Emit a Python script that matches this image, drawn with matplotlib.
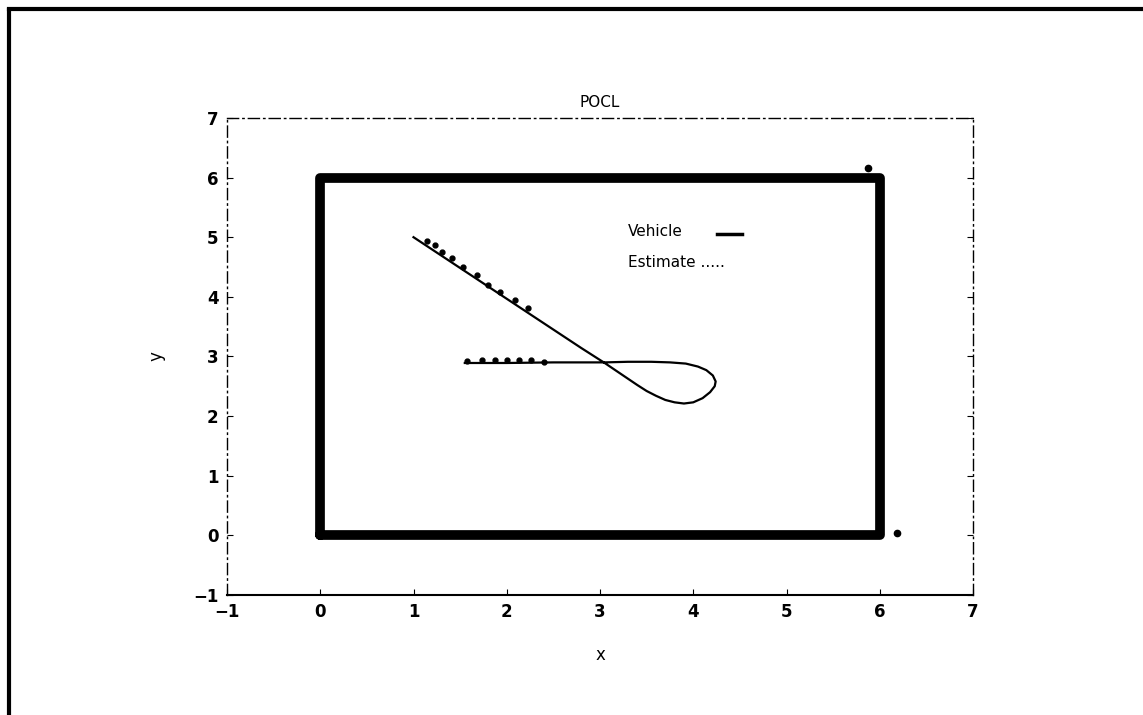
import numpy as np
import matplotlib.pyplot as plt
from matplotlib.lines import Line2D

# pool border
pool_x = [0, 6, 6, 0, 0]
pool_y = [0, 0, 6, 6, 0]

# vehicle path
veh_x = [1.00, 1.60, 2.20, 2.80, 3.05, 3.40, 3.50, 3.60, 3.70, 3.80, 3.90, 4.00,
         4.10, 4.18, 4.23, 4.24, 4.21, 4.14, 4.05, 3.92, 3.75, 3.55, 3.30, 3.05,
         2.50, 2.00, 1.55]
veh_y = [5.00, 4.38, 3.76, 3.14, 2.89, 2.52, 2.42, 2.34, 2.27, 2.23, 2.21, 2.23,
         2.30, 2.40, 2.50, 2.58, 2.68, 2.77, 2.83, 2.88, 2.90, 2.91, 2.91, 2.90,
         2.90, 2.89, 2.89]

# estimate points
est_x = [1.15, 1.23, 1.31, 1.41, 1.53, 1.68, 1.80, 1.93, 2.09, 2.23,
         1.57, 1.73, 1.87, 2.00, 2.13, 2.26, 2.40]
est_y = [4.94, 4.87, 4.75, 4.65, 4.50, 4.37, 4.20, 4.08, 3.95, 3.81,
         2.92, 2.94, 2.94, 2.94, 2.94, 2.94, 2.91]

# stray marks in the corners
mark_x = [5.87, 6.18]
mark_y = [6.16, 0.04]

fig = plt.figure(figsize=(11.43, 7.15), dpi=100)
ax = fig.add_axes([0.1986, 0.168, 0.6527, 0.667])

ax.plot(pool_x, pool_y, color='black', linewidth=7, solid_joinstyle='round',
        solid_capstyle='round')
ax.plot(veh_x, veh_y, color='black', linewidth=1.6)
ax.plot(est_x, est_y, 'o', color='black', markersize=3.5)
ax.plot(mark_x, mark_y, 'o', color='black', markersize=4.5)

ax.set_xlim(-1, 7)
ax.set_ylim(-1, 7)
ax.set_xticks(np.arange(-1, 8))
ax.set_yticks(np.arange(-1, 8))
ax.tick_params(direction='in', length=4, labelsize=12, top=False, right=True,
               pad=6)
for lab in ax.get_xticklabels() + ax.get_yticklabels():
    lab.set_fontweight('bold')

for side in ['top', 'right', 'left']:
    ax.spines[side].set_linestyle((0, (8, 3, 1, 3)))
    ax.spines[side].set_linewidth(1)
ax.spines['bottom'].set_linewidth(1.5)

ax.set_title('POCL', fontsize=11, pad=8)
ax.set_xlabel('x', fontsize=12, labelpad=18)
ax.set_ylabel('y', fontsize=12, labelpad=20)

# legend written as text like the original
ax.text(3.30, 5.09, 'Vehicle', fontsize=11, va='center')
ax.plot([4.25, 4.52], [5.05, 5.05], color='black', linewidth=2.5)
ax.text(3.30, 4.58, 'Estimate .....', fontsize=11, va='center')

# page frame
fig.add_artist(Line2D([0.008, 0.008], [0.0, 0.986], color='black', linewidth=3,
                      transform=fig.transFigure))
fig.add_artist(Line2D([0.008, 1.0], [0.987, 0.987], color='black', linewidth=3,
                      transform=fig.transFigure))

fig.savefig('out.png', dpi=100)
